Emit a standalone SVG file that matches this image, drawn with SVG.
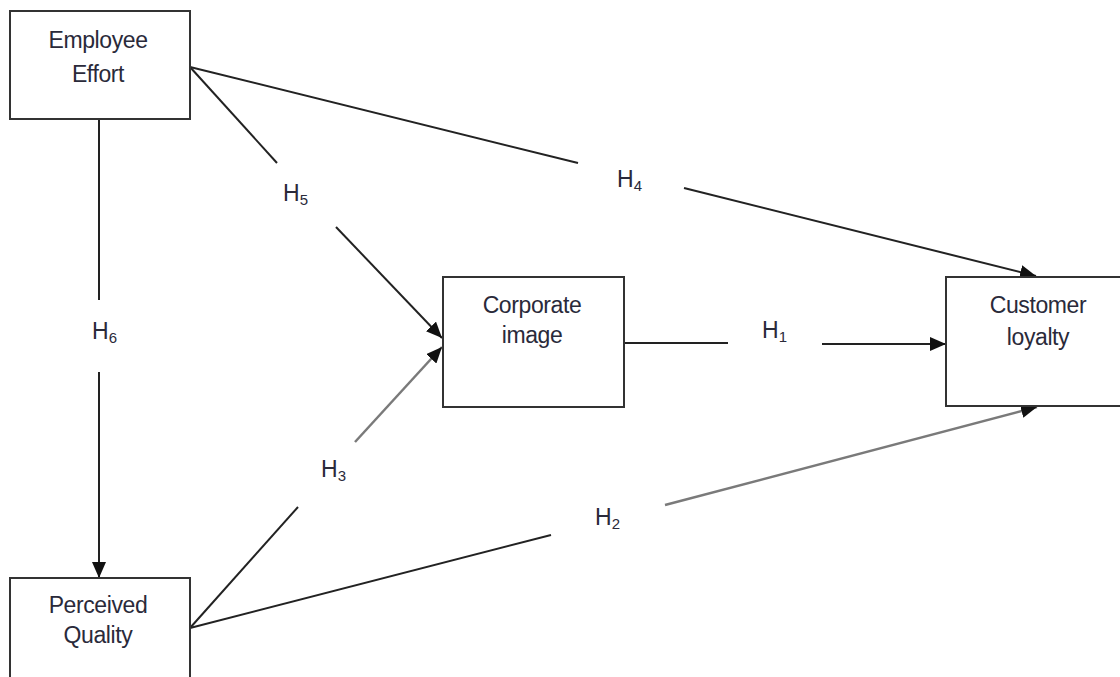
<svg xmlns="http://www.w3.org/2000/svg" width="1120" height="677" viewBox="0 0 1120 677">
<defs>
<marker id="ah" viewBox="0 0 16 14" refX="16" refY="7" markerWidth="16" markerHeight="14" markerUnits="userSpaceOnUse" orient="auto">
<path d="M0,0 L16,7 L0,14 Z" fill="#111"/>
</marker>
<marker id="ahg" viewBox="0 0 16 14" refX="16" refY="7" markerWidth="16" markerHeight="14" markerUnits="userSpaceOnUse" orient="auto">
<path d="M0,0 L16,7 L0,14 Z" fill="#111"/>
</marker>
</defs>
<style>
.box{fill:#fff;stroke:#333;stroke-width:2}
.nt{font-family:"Liberation Sans",Arial,sans-serif;font-size:23px;fill:#2a2a3a;text-anchor:middle;letter-spacing:-0.4px}
.ln{fill:none;stroke:#222;stroke-width:2}
.gl{fill:none;stroke:#7a7a7a;stroke-width:2.5}
.lb{font-family:"Liberation Sans",Arial,sans-serif;font-size:23px;fill:#2a2a3a}
.sub{font-size:15px}
</style>
<rect width="1120" height="677" fill="#fff"/>
<g id="connectors">
<line class="ln" x1="99" y1="119" x2="99" y2="300"/>
<line class="ln" x1="99" y1="372" x2="99" y2="578" marker-end="url(#ah)"/>
<line class="ln" x1="190" y1="67" x2="277" y2="163"/>
<line class="ln" x1="336" y1="227" x2="442" y2="338" marker-end="url(#ah)"/>
<line class="ln" x1="190" y1="67" x2="578" y2="163"/>
<line class="ln" x1="684" y1="188" x2="1036" y2="276" marker-end="url(#ah)"/>
<line class="ln" x1="624" y1="343" x2="728" y2="343"/>
<line class="ln" x1="822" y1="344" x2="946" y2="344" marker-end="url(#ah)"/>
<line class="ln" x1="190" y1="628" x2="298" y2="507"/>
<line class="gl" x1="355" y1="442" x2="442" y2="347" marker-end="url(#ahg)"/>
<line class="ln" x1="190" y1="628" x2="551" y2="535"/>
<line class="gl" x1="665" y1="505" x2="1037" y2="407" marker-end="url(#ahg)"/>
</g>
<g id="labels">
<text class="lb" x="92" y="339">H<tspan class="sub" dy="4">6</tspan></text>
<text class="lb" x="283" y="201">H<tspan class="sub" dy="4">5</tspan></text>
<text class="lb" x="617" y="187">H<tspan class="sub" dy="4">4</tspan></text>
<text class="lb" x="762" y="338">H<tspan class="sub" dy="4">1</tspan></text>
<text class="lb" x="321" y="477">H<tspan class="sub" dy="4">3</tspan></text>
<text class="lb" x="595" y="525">H<tspan class="sub" dy="4">2</tspan></text>
</g>
<g id="employee-effort">
<rect class="box" x="10" y="11" width="180" height="108"/>
<text class="nt" x="98" y="48">Employee</text>
<text class="nt" x="98" y="82">Effort</text>
</g>
<g id="perceived-quality">
<rect class="box" x="10" y="578" width="180" height="110"/>
<text class="nt" x="98" y="613">Perceived</text>
<text class="nt" x="98" y="643">Quality</text>
</g>
<g id="corporate-image">
<rect class="box" x="443" y="277" width="181" height="130"/>
<text class="nt" x="532" y="313">Corporate</text>
<text class="nt" x="532" y="343">image</text>
</g>
<g id="customer-loyalty">
<rect class="box" x="946" y="277" width="190" height="129"/>
<text class="nt" x="1038" y="313">Customer</text>
<text class="nt" x="1038" y="345">loyalty</text>
</g>
</svg>
